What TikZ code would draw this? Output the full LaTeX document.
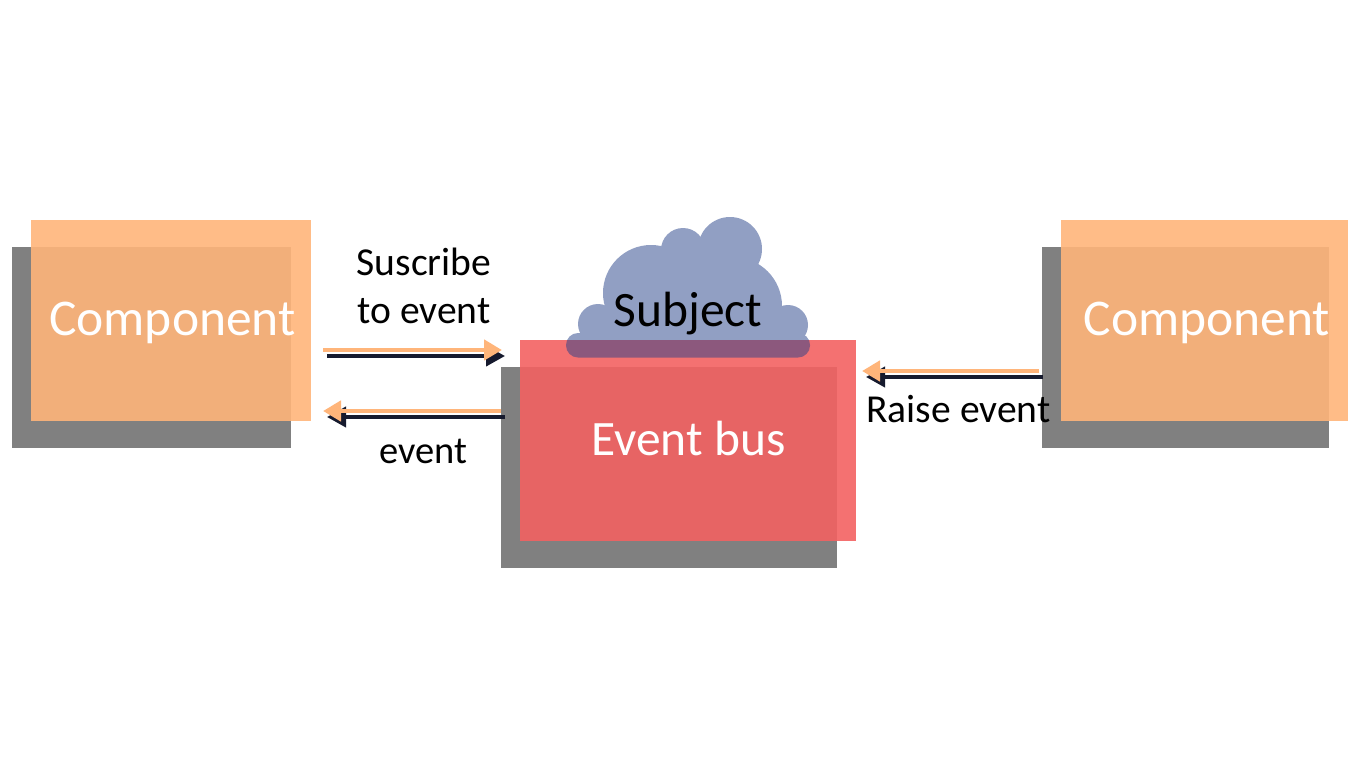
\documentclass[tikz,border=0pt]{standalone}
\usepackage{fontspec}
\setmainfont{Carlito}
\usetikzlibrary{arrows.meta}
\definecolor{orangebox}{HTML}{FFB57A}
\definecolor{redbox}{HTML}{F36262}
\definecolor{cloudblue}{HTML}{254189}
\definecolor{shadowgray}{HTML}{808080}
\definecolor{arroworange}{HTML}{FFB57A}
\definecolor{arrowdark}{HTML}{161A2E}
\tikzset{
  x=1pt,y=-1pt,
  shadowbox/.style={fill=shadowgray,draw=none,inner sep=0,outer sep=0,anchor=north west},
  orangepanel/.style={fill=orangebox,fill opacity=.9,draw=none,inner sep=0,outer sep=0,anchor=north west},
  redpanel/.style={fill=redbox,fill opacity=.9,draw=none,inner sep=0,outer sep=0,anchor=north west},
  complabel/.style={text=white,font=\fontsize{51.5}{51.5}\selectfont,anchor=base,inner sep=0},
  whitelabel/.style={text=white,font=\fontsize{49.5}{49.5}\selectfont,anchor=base,inner sep=0},
  blacklabel/.style={text=black,font=\fontsize{39.6}{39.6}\selectfont,anchor=base,inner sep=0},
  eventlabel/.style={text=black,font=\fontsize{38.5}{38.5}\selectfont,anchor=base,inner sep=0},
  subjectlabel/.style={text=black,font=\fontsize{49.5}{49.5}\selectfont,anchor=base,inner sep=0},
  orangearrow/.style={draw=arroworange,line width=4.8pt,-{Triangle[length=18pt,width=20pt]}},
  darkarrow/.style={draw=arrowdark,line width=4pt,-{Triangle[length=19pt,width=20pt]}},
}
\begin{document}
\begin{tikzpicture}
\useasboundingbox (0,0) rectangle (1366,769);
\fill[white] (0,0) rectangle (1366,769);
% shadows
\node[shadowbox,minimum width=279pt,minimum height=201pt] (shadowL) at (12,247) {};
\node[shadowbox,minimum width=336.5pt,minimum height=201pt] (shadowM) at (500.5,367) {};
\node[shadowbox,minimum width=287pt,minimum height=201pt] (shadowR) at (1042,247) {};
% panels
\node[orangepanel,minimum width=280pt,minimum height=201pt] (compL) at (31,220) {};
\node[redpanel,minimum width=336.5pt,minimum height=201pt] (bus) at (519.5,340) {};
\node[orangepanel,minimum width=287pt,minimum height=201pt] (compR) at (1061.3,220) {};
% cloud
\begin{scope}[transparency group,opacity=.5]
\fill[cloudblue] (730,249) circle[radius=32];
\fill[cloudblue] (683,250) circle[radius=22];
\fill[cloudblue] (651,293) circle[radius=48];
\fill[cloudblue] (733,306) circle[radius=49];
\fill[cloudblue] (598,324) circle[radius=20];
\fill[cloudblue] (788,325) circle[radius=20];
\fill[cloudblue,rounded corners=12pt] (566,333) rectangle (810,357.5);
\fill[cloudblue] (606,305) rectangle (780,340);
\fill[cloudblue] (680,250) rectangle (740,305);
\end{scope}
% coordinates
\coordinate (a1s) at (327,356); \coordinate (a1e) at (505,356);
\coordinate (b1s) at (323,350); \coordinate (b1e) at (502,350);
\coordinate (a2s) at (505,417); \coordinate (a2e) at (327,417);
\coordinate (b2s) at (501,411); \coordinate (b2e) at (323,411);
\coordinate (a3s) at (1043,377); \coordinate (a3e) at (866,377);
\coordinate (b3s) at (1039,371); \coordinate (b3e) at (862,371);
\draw[darkarrow] (a1s) -- (a1e);
\draw[orangearrow] (b1s) -- (b1e);
\draw[darkarrow] (a2s) -- (a2e);
\draw[orangearrow] (b2s) -- (b2e);
\draw[darkarrow] (a3s) -- (a3e);
\draw[orangearrow] (b3s) -- (b3e);
% labels
\node[complabel] (tL) at (172.5,335) {Component};
\node[complabel] (tR) at (1206.8,335) {Component};
\node[whitelabel] (tB) at (688.5,455) {Event bus};
\node[subjectlabel] (tS) at (688,326.5) {Subject};
\node[blacklabel] (t1) at (424,275) {Suscribe};
\node[blacklabel] (t2) at (424,323) {to event};
\node[eventlabel] (t3) at (423.5,463) {event};
\node[blacklabel] (t4) at (958.5,422) {Raise event};
\end{tikzpicture}
\end{document}
